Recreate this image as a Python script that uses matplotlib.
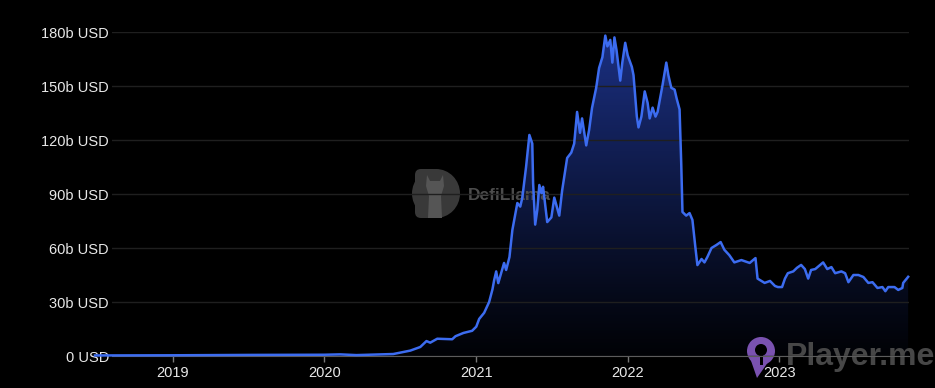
"""DeFi total value locked, dark DefiLlama-style area chart."""

import matplotlib

matplotlib.use("Agg")
import matplotlib.dates as mdates
import matplotlib.pyplot as plt
import matplotlib.transforms as mtransforms
import numpy as np
import pandas as pd
from matplotlib.patches import Circle, Ellipse, FancyBboxPatch, PathPatch, Polygon, Rectangle

# TVL in billions of USD
DATES = [
    "2018-06-27", "2019-01-01", "2019-07-05", "2020-01-01", "2020-02-08", "2020-03-18",
    "2020-06-15", "2020-07-26", "2020-08-19", "2020-09-03", "2020-09-12", "2020-09-29",
    "2020-11-04", "2020-11-12", "2020-12-01", "2020-12-22", "2021-01-01", "2021-01-08",
    "2021-01-20", "2021-02-01", "2021-02-09", "2021-02-13", "2021-02-18", "2021-02-23",
    "2021-03-09", "2021-03-14", "2021-03-22", "2021-03-29", "2021-04-10", "2021-04-17",
    "2021-04-22", "2021-05-01", "2021-05-09", "2021-05-16", "2021-05-18", "2021-05-23",
    "2021-05-28", "2021-06-02", "2021-06-07", "2021-06-11", "2021-06-21", "2021-07-01",
    "2021-07-08", "2021-07-20", "2021-07-27", "2021-08-08", "2021-08-18", "2021-08-25",
    "2021-09-01", "2021-09-08", "2021-09-13", "2021-09-23", "2021-09-30", "2021-10-07",
    "2021-10-17", "2021-10-24", "2021-11-01", "2021-11-08", "2021-11-13", "2021-11-20",
    "2021-11-25", "2021-11-30", "2021-12-05", "2021-12-14", "2021-12-19", "2021-12-26",
    "2022-01-01", "2022-01-11", "2022-01-15", "2022-01-23", "2022-01-27", "2022-02-03",
    "2022-02-11", "2022-02-18", "2022-02-23", "2022-03-02", "2022-03-09", "2022-03-14",
    "2022-03-26", "2022-04-04", "2022-04-09", "2022-04-16", "2022-04-24", "2022-04-29",
    "2022-05-06", "2022-05-10", "2022-05-13", "2022-05-22", "2022-05-30", "2022-06-06",
    "2022-06-13", "2022-06-18", "2022-06-28", "2022-07-05", "2022-07-12", "2022-07-22",
    "2022-08-03", "2022-08-13", "2022-08-22", "2022-09-03", "2022-09-15", "2022-10-02",
    "2022-10-22", "2022-11-05", "2022-11-10", "2022-11-27", "2022-12-10", "2022-12-22",
    "2022-12-29", "2023-01-08", "2023-01-15", "2023-01-22", "2023-02-04", "2023-02-13",
    "2023-02-23", "2023-03-04", "2023-03-12", "2023-03-19", "2023-03-29", "2023-04-10",
    "2023-04-17", "2023-04-27", "2023-05-07", "2023-05-16", "2023-05-31", "2023-06-09",
    "2023-06-17", "2023-06-29", "2023-07-11", "2023-07-23", "2023-08-04", "2023-08-14",
    "2023-08-26", "2023-09-07", "2023-09-14", "2023-09-21", "2023-10-06", "2023-10-15",
    "2023-10-25", "2023-10-27", "2023-11-08",
]
TVL_BN = [
    0.3, 0.4, 0.6, 0.7, 0.9, 0.5,
    1.1, 3.0, 5.0, 8.3, 7.4, 9.6,
    9.3, 11.0, 12.8, 14.0, 16.3, 20.6,
    24.0, 30.0, 37.0, 42.0, 47.0, 40.5,
    51.7, 47.8, 55.0, 70.0, 85.0, 83.0,
    88.0, 105.0, 122.8, 118.0, 96.0, 73.0,
    81.0, 95.0, 90.5, 94.0, 74.4, 77.0,
    88.0, 78.0, 92.0, 110.0, 113.0, 118.0,
    135.6, 124.0, 132.0, 117.0, 125.6, 137.8,
    149.0, 160.0, 166.0, 178.0, 172.0, 175.6,
    163.0, 177.0, 170.0, 153.0, 163.0, 174.0,
    167.0, 160.6, 156.0, 133.0, 127.0, 133.0,
    147.0, 140.6, 132.0, 138.0, 133.0, 135.6,
    150.6, 163.0, 156.0, 149.0, 148.0, 143.0,
    137.0, 107.0, 80.0, 78.0, 79.4, 75.6,
    60.6, 50.5, 53.9, 52.0, 55.0, 60.0,
    61.7, 63.3, 59.0, 56.0, 52.0, 53.3,
    51.7, 54.4, 43.0, 40.6, 41.7, 38.9,
    38.3, 38.3, 43.0, 46.0, 47.0, 49.0,
    50.6, 48.3, 43.0, 47.8, 48.3, 50.6,
    52.0, 48.3, 49.4, 46.0, 47.0, 46.0,
    41.0, 45.0, 45.0, 43.9, 40.6, 41.0,
    37.8, 38.3, 36.0, 38.3, 38.3, 36.7,
    37.8, 40.6, 44.0,
]

Y_TICKS = [0, 30, 60, 90, 120, 150, 180]
Y_LABELS = ["0 USD", "30b USD", "60b USD", "90b USD", "120b USD", "150b USD", "180b USD"]
YEAR_TICKS = ["2019-01-01", "2020-01-01", "2021-01-01", "2022-01-01", "2023-01-01"]
YEAR_LABELS = ["2019", "2020", "2021", "2022", "2023"]
X_RANGE = ["2018-08-07", "2023-11-10"]

W, H = 935, 388
FONT = "Liberation Sans"

fig = plt.figure(figsize=(W / 100, H / 100), dpi=100, facecolor="black")
# image-pixel coordinates, y measured from the top
pix = mtransforms.Affine2D().scale(1, -1).translate(0, H).scale(1 / W, 1 / H) + fig.transFigure

ax = fig.add_axes([112 / W, 32 / H, (909 - 112) / W, 324 / H])
ax.set_facecolor("black")

x = mdates.date2num(pd.to_datetime(DATES))
y = np.array(TVL_BN)
x0, x1 = mdates.date2num(pd.to_datetime(X_RANGE))

# vertical gradient under the curve
t = np.linspace(0, 1, 256)[:, None]
alpha = 0.03 + 0.6 * t ** 1.1
rgb = alpha[..., None] * np.array([0.17, 0.30, 0.82])
img = ax.imshow(rgb, extent=[x[0], x[-1], 0, 180], origin="lower", aspect="auto",
                interpolation="bilinear", zorder=1)
area = ax.fill_between(x, y, 0, color="none", lw=0)
clip = PathPatch(area.get_paths()[0], transform=ax.transData, facecolor="none", edgecolor="none")
ax.add_patch(clip)
img.set_clip_path(clip)

ax.plot(x, y, color="#3c6cf0", lw=1.8, solid_joinstyle="round", clip_on=False, zorder=4)

ax.set_xlim(x0, x1)
ax.set_ylim(0, 180)
ax.set_yticks(Y_TICKS, Y_LABELS)
ax.set_xticks(mdates.date2num(pd.to_datetime(YEAR_TICKS)), YEAR_LABELS)
ax.grid(axis="y", color="#1f1f1f", lw=1)
ax.set_axisbelow(False)
for side in ("top", "left", "right"):
    ax.spines[side].set_visible(False)
ax.spines["bottom"].set_color("#5c5c5c")
ax.spines["bottom"].set_zorder(3)
ax.tick_params(axis="y", length=0, pad=2.2, labelcolor="#e8e8e8", labelsize=10.5)
ax.tick_params(axis="x", length=4, width=1, color="#777777", pad=3.5,
               labelcolor="#e8e8e8", labelsize=10.5)
for lbl in ax.get_xticklabels() + ax.get_yticklabels():
    lbl.set_fontfamily(FONT)


def stamp(patch):
    # watermark pieces sit above the fill but below the line and axis
    patch.set_transform(pix)
    patch.set_clip_on(False)
    patch.set_zorder(2)
    patch.set_edgecolor("none")
    ax.add_artist(patch)


# DefiLlama watermark
grey_d = "#393939"
stamp(FancyBboxPatch((415, 169), 24, 49, boxstyle="round,pad=0,rounding_size=6",
                     facecolor=grey_d))
stamp(Ellipse((436, 193.5), 48, 49, facecolor=grey_d))
stamp(Polygon([(427, 175), (430, 181), (440, 181), (443, 175), (444, 186), (441, 196),
               (442, 218), (428, 218), (429, 196), (426, 186)], closed=True,
              facecolor="#555555"))
ax.text(468, 196, "DefiLlama", transform=pix, ha="left", va="center", color="#4c4c4c",
        fontsize=12.5, fontweight="bold", family=FONT, zorder=2, clip_on=False)

# Player.me watermark
purple = "#7a52b0"
stamp(Polygon([(749, 355), (773, 355), (757, 378)], closed=True, facecolor=purple))
stamp(Circle((761, 351), 14, facecolor=purple))
stamp(Circle((761, 350), 6, facecolor="black"))
stamp(Rectangle((759.5, 352), 3, 13, facecolor="black"))
ax.text(786, 365, "Player.me", transform=pix, ha="left", va="baseline", color="#474747",
        fontsize=23, fontweight="bold", family=FONT, zorder=2, clip_on=False)

fig.savefig("out.png", dpi=100, facecolor="black")
